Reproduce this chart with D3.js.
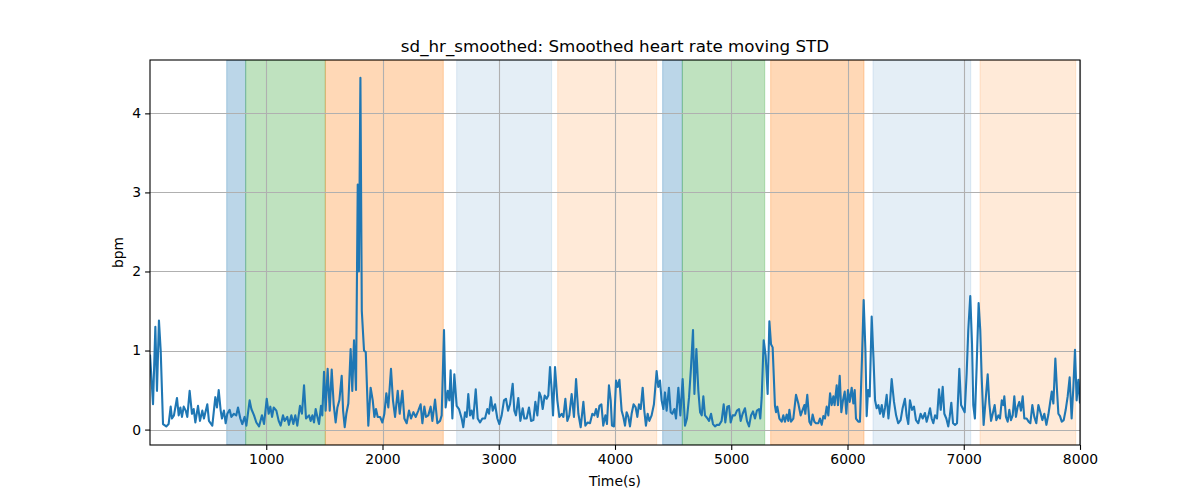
<!DOCTYPE html>
<html>
<head>
<meta charset="utf-8">
<script src="https://cdn.jsdelivr.net/npm/d3@7"></script>
<style>
  html, body { margin: 0; padding: 0; background: #fff; }
  svg { display: block; font-family: "DejaVu Sans", sans-serif; }
</style>
</head>
<body>
<svg id="chart" width="1200" height="500"></svg>
<script>
// ---- data ----
const times = [
  0,26,46,60,77,92,112,140,160,178,189,206,232,247,261,275,290,307,321,341,361,376,390,413,430,450,464,493,507,536,562,576,591,608,619,636,651,665,685,700,722,742,757,777,794,814,829,857,872,895,915,938,963,981,1004,1021,1035,1050,1064,1087,1107,1124,1144,1158,1181,1195,1216,1233,1250,1267,1290,1307,1325,1342,
  1368,1382,1397,1411,1425,1440,1454,1471,1482,1497,1511,1528,1546,1563,1580,1597,1612,1629,1649,1661,1675,1689,1706,1726,1740,1755,1772,1787,1797,1810,1822,1841,1856,1878,1898,1916,1930,1944,1959,1979,1999,2016,2033,2050,2073,2090,2108,2131,2148,2171,2188,2208,2228,2245,2266,2286,2308,2328,2343,2360,2374,2394,2414,2429,2452,2472,2495,2509,2529,2543,2561,2575,2586,2601,2618,2638,2658,2681,2695,
  2710,2724,2738,2753,2767,2781,2802,2819,2839,2859,2882,2902,2916,2933,2948,2968,2988,3005,3025,3045,3062,3080,3097,3120,3134,3148,3168,3186,3206,3220,3240,3260,3278,3298,3315,3332,3349,3364,3378,3395,3412,3426,3441,3455,3467,3484,3504,3521,3541,3556,3573,3590,3607,3627,3647,3665,3685,3705,3728,3745,3765,3785,3805,3823,3837,3851,3866,3883,3899,3917,3931,3948,3963,3974,3991,4009,4023,4038,
  4057,4072,4086,4100,4115,4129,4143,4160,4178,4192,4206,4221,4238,4252,4266,4281,4295,4315,4335,4358,4372,4387,4401,4416,4430,4444,4464,4479,4493,4511,4525,4545,4562,4582,4602,4619,4637,4654,4671,4683,4700,4717,4732,4746,4760,4774,4791,4809,4826,4843,4860,4877,4897,4917,4935,4949,4966,4981,4995,5012,5032,5049,5067,5081,5098,5118,5135,5153,5170,5187,5204,5221,5239,5250,5262,5279,5296,5313,5328,5342,5356,
  5376,5385,5396,5414,5434,5448,5462,5477,5491,5500,5514,5534,5557,5577,5597,5614,5629,5637,5654,5672,5686,5700,5715,5729,5749,5763,5778,5792,5806,5821,5835,5850,5864,5878,5889,5907,5918,5933,5947,5961,5976,5990,6004,6019,6036,6050,6062,6073,6093,6107,6125,6139,6154,6165,6177,6191,6208,6223,6237,6251,6266,6280,6295,6309,6323,6337,6352,6366,6380,6400,6418,6436,6457,6474,6494,6509,6523,6537,6555,6572,6589,6609,6629,6647,6666,6681,6698,
  6710,6724,6738,6753,6770,6787,6802,6819,6833,6850,6867,6879,6893,6908,6925,6942,6962,6977,6991,7008,7025,7039,7056,7071,7082,7096,7111,7128,7142,7154,7171,7188,7206,7220,7235,7249,7266,7280,7298,7312,7327,7341,7349,7363,7378,7392,7406,7421,7435,7449,7464,7478,7492,7507,7521,7541,7558,7573,7590,7607,7624,7642,7659,7676,7693,7711,7728,7742,7757,7771,7788,7802,7814,7828,7843,7860,7877,7894,7911,7928,7943,7957,7971,7986,8000
];
const sdHr = [
  0.95,0.32,1.30,0.49,1.38,1.0,0.07,0.04,0.07,0.29,0.14,0.18,0.40,0.18,0.28,0.16,0.29,0.24,0.16,0.49,0.20,0.26,0.09,0.30,0.11,0.24,0.14,0.32,0.11,0.05,0.41,0.28,0.50,0.24,0.14,0.24,0.08,0.20,0.25,0.16,0.20,0.18,0.28,0.14,0.07,0.16,0.05,0.37,0.26,0.18,0.09,0.04,0.18,0.07,0.39,0.20,0.29,0.16,0.28,0.24,0.11,0.05,0.18,0.11,0.16,0.06,0.18,0.07,0.18,0.05,0.30,0.20,0.56,0.14,
  0.18,0.11,0.18,0.09,0.26,0.16,0.07,0.30,0.18,0.73,0.24,0.77,0.24,0.76,0.32,0.09,0.28,0.37,0.68,0.24,0.03,0.20,0.33,1.02,0.49,1.13,0.50,3.10,2.00,4.45,1.50,1.00,0.98,0.05,0.53,0.37,0.16,0.26,0.16,0.16,0.09,0.20,0.46,0.28,0.77,0.37,0.16,0.49,0.20,0.49,0.14,0.08,0.24,0.14,0.22,0.16,0.24,0.32,0.08,0.29,0.16,0.18,0.29,0.11,0.38,0.08,0.11,0.18,1.26,0.28,0.49,0.37,0.75,0.14,0.70,0.30,0.26,0.14,0.03,
  0.22,0.16,0.45,0.18,0.24,0.14,0.51,0.14,0.09,0.14,0.14,0.26,0.20,0.41,0.24,0.32,0.14,0.07,0.18,0.37,0.39,0.24,0.32,0.58,0.24,0.18,0.40,0.11,0.27,0.14,0.14,0.28,0.11,0.12,0.35,0.18,0.47,0.41,0.26,0.43,0.39,0.43,0.79,0.51,0.18,0.79,0.37,0.16,0.20,0.16,0.39,0.11,0.18,0.45,0.16,0.64,0.20,0.03,0.35,0.05,0.09,0.08,0.20,0.18,0.26,0.16,0.30,0.32,0.05,0.18,0.07,0.56,0.37,0.05,0.04,0.62,0.54,0.63,
  0.24,0.16,0.05,0.22,0.16,0.04,0.20,0.32,0.28,0.16,0.32,0.26,0.53,0.24,0.05,0.20,0.11,0.18,0.32,0.74,0.54,0.62,0.37,0.26,0.47,0.24,0.53,0.22,0.20,0.26,0.14,0.53,0.18,0.64,0.05,0.14,0.41,0.79,1.26,0.45,1.02,0.49,0.22,0.18,0.42,0.18,0.15,0.11,0.20,0.07,0.04,0.06,0.06,0.11,0.32,0.09,0.29,0.30,0.09,0.18,0.18,0.24,0.26,0.11,0.20,0.27,0.11,0.04,0.18,0.23,0.14,0.24,0.26,0.14,0.41,1.13,0.94,0.45,1.37,1.08,1.04,
  0.30,0.22,0.29,0.14,0.10,0.18,0.10,0.19,0.11,0.25,0.10,0.14,0.44,0.33,0.18,0.25,0.31,0.20,0.44,0.10,0.06,0.19,0.10,0.08,0.08,0.14,0.06,0.17,0.14,0.29,0.18,0.46,0.31,0.42,0.31,0.56,0.31,0.68,0.22,0.37,0.48,0.20,0.50,0.35,0.53,0.33,0.50,0.14,0.10,0.10,0.92,1.64,1.01,0.17,0.50,0.42,1.43,0.92,0.37,0.27,0.31,0.20,0.31,0.16,0.28,0.44,0.14,0.35,0.64,0.35,0.18,0.08,0.12,0.27,0.39,0.17,0.07,0.37,0.25,0.29,0.12,0.08,0.20,0.14,0.21,0.10,0.19,
  0.27,0.14,0.08,0.18,0.14,0.51,0.25,0.54,0.20,0.14,0.04,0.16,0.34,0.08,0.06,0.08,0.77,0.31,0.27,0.22,0.71,1.26,1.69,1.09,0.31,0.14,0.80,1.60,1.26,0.67,0.06,0.37,0.70,0.33,0.11,0.20,0.31,0.12,0.18,0.14,0.37,0.31,0.42,0.16,0.10,0.25,0.12,0.18,0.42,0.16,0.29,0.35,0.24,0.42,0.14,0.14,0.10,0.08,0.31,0.16,0.08,0.31,0.22,0.12,0.20,0.06,0.19,0.33,0.48,0.33,0.90,0.50,0.20,0.17,0.10,0.12,0.25,0.42,0.66,0.14,0.54,1.01,0.37,0.63,0.33
];

// shaded activity periods
const bandStarts = [660, 823, 1508, 2638, 3507, 4410, 4579, 5339, 6219, 7140];
const bandEnds   = [823, 1508, 2523, 3455, 4359, 4579, 5288, 6142, 7060, 7963];
const bandKinds  = ["blue", "green", "orange", "lightblue", "lightorange", "blue", "green", "orange", "lightblue", "lightorange"];

const xTicks = [1000, 2000, 3000, 4000, 5000, 6000, 7000, 8000];
const yTicks = [0, 1, 2, 3, 4];

const titleText = "sd_hr_smoothed: Smoothed heart rate moving STD";
const xLabel = "Time(s)";
const yLabel = "bpm";

// ---- styles ----
const bandStyle = {
  blue:        { color: "#1f77b4", alpha: 0.3 },
  green:       { color: "#2ca02c", alpha: 0.3 },
  orange:      { color: "#ff7f0e", alpha: 0.3 },
  lightblue:   { color: "#1f77b4", alpha: 0.12 },
  lightorange: { color: "#ff7f0e", alpha: 0.16 }
};

const L = 150, R = 1080, T = 60, B = 445;
const svg = d3.select("#chart");

const x = d3.scaleLinear().domain([0, 8000]).range([L, R]);
const y = d3.scaleLinear().domain([-0.195, 4.675]).range([B, T]);

svg.append("defs").append("clipPath").attr("id", "clip")
  .append("rect").attr("x", L).attr("y", T).attr("width", R - L).attr("height", B - T);

// bands
const bands = bandStarts.map((s, i) => ({ s, e: bandEnds[i], k: bandKinds[i] }));
svg.append("g").attr("clip-path", "url(#clip)")
  .selectAll("rect").data(bands).join("rect")
  .attr("x", d => x(d.s)).attr("width", d => x(d.e) - x(d.s))
  .attr("y", T).attr("height", B - T)
  .attr("fill", d => bandStyle[d.k].color)
  .attr("fill-opacity", d => bandStyle[d.k].alpha)
  .attr("stroke", d => bandStyle[d.k].color)
  .attr("stroke-opacity", d => bandStyle[d.k].alpha)
  .attr("stroke-width", 1);

// grid
const grid = svg.append("g").attr("stroke", "#b0b0b0").attr("stroke-width", 1.1);
grid.selectAll(".gx").data(xTicks).join("line")
  .attr("x1", d => Math.round(x(d)) + 0.5).attr("x2", d => Math.round(x(d)) + 0.5)
  .attr("y1", T).attr("y2", B);
grid.selectAll(".gy").data(yTicks).join("line")
  .attr("y1", d => Math.round(y(d)) + 0.5).attr("y2", d => Math.round(y(d)) + 0.5)
  .attr("x1", L).attr("x2", R);

// line
const pts = times.map((t, i) => [t, sdHr[i]]);
svg.append("path").datum(pts)
  .attr("clip-path", "url(#clip)")
  .attr("fill", "none").attr("stroke", "#1f77b4").attr("stroke-width", 2.1)
  .attr("stroke-linejoin", "round").attr("stroke-linecap", "butt")
  .attr("d", d3.line().x(d => x(d[0])).y(d => y(d[1])));

// axes
const xAxis = d3.axisBottom(x).tickValues(xTicks).tickSize(4.9).tickPadding(4).tickFormat(d3.format("d"));
const gx = svg.append("g").attr("transform", `translate(0,${B})`).call(xAxis);
const yAxis = d3.axisLeft(y).tickValues(yTicks).tickSize(4.9).tickPadding(4).tickFormat(d3.format("d"));
const gy = svg.append("g").attr("transform", `translate(${L},0)`).call(yAxis);
[gx, gy].forEach(g => {
  g.select(".domain").remove();
  g.selectAll(".tick line").attr("stroke", "#000").attr("stroke-width", 1.1);
  g.selectAll(".tick text").attr("fill", "#000").style("font-size", "13.9px").style("font-family", "DejaVu Sans");
});

// spines
svg.append("rect").attr("x", L).attr("y", T).attr("width", R - L).attr("height", B - T)
  .attr("fill", "none").attr("stroke", "#000").attr("stroke-width", 1.1);

// texts
svg.append("text").attr("x", (L + R) / 2).attr("y", 52).attr("text-anchor", "middle")
  .style("font-size", "16.7px").attr("fill", "#000").text(titleText);
svg.append("text").attr("x", (L + R) / 2).attr("y", 486).attr("text-anchor", "middle")
  .style("font-size", "13.9px").attr("fill", "#000").text(xLabel);
svg.append("text").attr("transform", `translate(123,${(T + B) / 2}) rotate(-90)`).attr("text-anchor", "middle")
  .style("font-size", "13.9px").attr("fill", "#000").text(yLabel);
</script>
</body>
</html>
